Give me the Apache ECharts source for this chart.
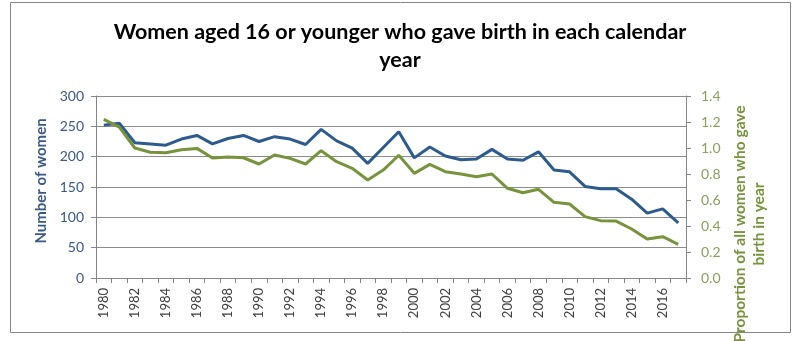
<!DOCTYPE html>
<html>
<head>
<meta charset="utf-8">
<script src="https://cdn.jsdelivr.net/npm/echarts@6/dist/echarts.min.js"></script>
<style>
  html, body { margin: 0; padding: 0; background: #fff; }
  #chart { width: 800px; height: 341px; }
</style>
</head>
<body>
<div id="chart"></div>
<script>
// Calendar years on the category axis
const years = [];
for (let y = 1980; y <= 2017; y++) years.push(String(y));

// Number of women aged 16 or younger giving birth (left axis)
const womenCount = [
  252, 255, 223, 221, 219, 229, 235, 221, 230, 235,
  225, 233, 229, 220, 245, 226, 214, 189, 215, 241,
  198, 216, 201, 195, 196, 212, 196, 194, 208, 178,
  175, 151, 147, 147, 130, 107, 114, 91
];

// Proportion of all women who gave birth in the year (right axis)
const proportion = [
  1.22, 1.16, 1.00, 0.967, 0.964, 0.987, 0.997, 0.923, 0.931, 0.925,
  0.877, 0.946, 0.92, 0.877, 0.979, 0.895, 0.844, 0.754, 0.83, 0.944,
  0.805, 0.874, 0.818, 0.80, 0.779, 0.80, 0.69, 0.656, 0.682, 0.582,
  0.569, 0.472, 0.441, 0.438, 0.377, 0.30, 0.318, 0.259
];

const leftTicks = { min: 0, max: 300, interval: 50 };
const rightTicks = { min: 0, max: 1.4, interval: 0.2 };

const blue = '#2D5B8E';
const green = '#77933C';
const fontFamily = 'Lato, "Noto Sans", sans-serif';

const chart = echarts.init(document.getElementById('chart'), null, { renderer: 'canvas' });

chart.setOption({
  animation: false,
  backgroundColor: '#ffffff',
  title: {
    text: 'Women aged 16 or younger who gave birth in each calendar\nyear',
    left: 'center',
    top: 13,
    textStyle: {
      fontFamily: fontFamily,
      fontWeight: 'bold',
      fontSize: 21.5,
      lineHeight: 28,
      color: '#000000'
    }
  },
  grid: { left: 96, right: 114, top: 96, bottom: 63 },
  xAxis: {
    type: 'category',
    data: years,
    boundaryGap: true,
    axisLine: { lineStyle: { color: '#868686', width: 1 } },
    axisTick: { show: true, interval: 0, length: 5, lineStyle: { color: '#868686' } },
    axisLabel: {
      interval: 1,
      rotate: 90,
      margin: 10,
      fontFamily: fontFamily,
      fontSize: 13,
      color: '#404040'
    },
    splitLine: { show: false }
  },
  yAxis: [
    {
      type: 'value',
      min: leftTicks.min,
      max: leftTicks.max,
      interval: leftTicks.interval,
      position: 'left',
      name: 'Number of women',
      nameLocation: 'middle',
      nameGap: 47,
      nameTextStyle: {
        fontFamily: fontFamily,
        fontWeight: 'bold',
        fontSize: 15,
        color: '#3B5886',
        padding: [0, 0, 0, 12]
      },
      axisLine: { show: true, lineStyle: { color: '#868686' } },
      axisTick: { show: true, length: 5, lineStyle: { color: '#868686' } },
      axisLabel: {
        margin: 12,
        fontFamily: fontFamily,
        fontSize: 14,
        color: '#3B5886'
      },
      splitLine: { show: true, lineStyle: { color: '#8C8C8C', width: 1 } }
    },
    {
      type: 'value',
      min: rightTicks.min,
      max: rightTicks.max,
      interval: rightTicks.interval,
      position: 'right',
      axisLine: { show: true, lineStyle: { color: '#868686' } },
      axisTick: { show: true, length: 5, lineStyle: { color: '#868686' } },
      axisLabel: {
        margin: 15,
        fontFamily: fontFamily,
        fontSize: 14,
        color: '#8AA05C',
        formatter: v => v.toFixed(1)
      },
      splitLine: { show: false }
    }
  ],
  series: [
    {
      name: 'Number of women',
      type: 'line',
      yAxisIndex: 0,
      data: womenCount,
      showSymbol: false,
      lineStyle: { color: blue, width: 3 },
      itemStyle: { color: blue }
    },
    {
      name: 'Proportion of all women who gave birth in year',
      type: 'line',
      yAxisIndex: 1,
      data: proportion,
      showSymbol: false,
      lineStyle: { color: green, width: 3 },
      itemStyle: { color: green }
    }
  ],
  graphic: [
    {
      type: 'rect',
      shape: { x: 10.5, y: 2.5, width: 780, height: 330 },
      style: { fill: 'none', stroke: '#868686', lineWidth: 1 },
      silent: true,
      z: -1
    },
    {
      type: 'text',
      x: 749,
      y: 224,
      rotation: Math.PI / 2,
      style: {
        text: 'Proportion of all women who gave\nbirth in year',
        fontFamily: fontFamily,
        fontWeight: 'bold',
        fontSize: 15.5,
        lineHeight: 19,
        fill: '#77933C',
        align: 'center',
        verticalAlign: 'middle'
      }
    }
  ]
});
</script>
</body>
</html>
